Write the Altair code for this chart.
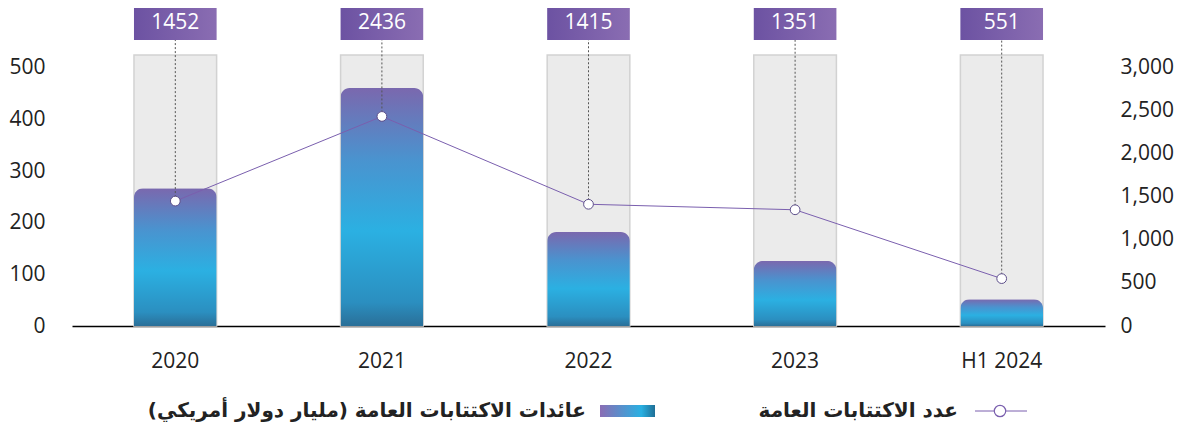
import altair as alt
import pandas as pd

years = ["2020", "2021", "2022", "2023", "H1 2024"]
proceeds = [267, 461, 182, 126, 52]
counts = [1452, 2436, 1415, 1351, 551]
left_ticks = [0, 100, 200, 300, 400, 500]
right_ticks = [0, 500, 1000, 1500, 2000, 2500, 3000]
legend_bar = "عائدات الاكتتابات العامة (مليار دولار أمريكي)"
legend_line = "عدد الاكتتابات العامة"

df = pd.DataFrame({"year": years, "proceeds": proceeds, "count": counts,
                   "label": [str(c) for c in counts]})
one = pd.DataFrame({"k": [0]})

W, H = 1033, 271
FONT = "Open Sans"
PURPLE = "#7a5fae"
FS = 21

x = alt.X("year:N", sort=years, title=None,
          scale=alt.Scale(paddingInner=0.6, paddingOuter=0.3),
          axis=alt.Axis(domain=True, domainColor="#000", domainWidth=1.5, ticks=False,
                        labelAngle=0, labelFontSize=FS, labelFont=FONT, labelColor="#222",
                        labelPadding=24, grid=False))

base = alt.Chart(df).encode(x=x)

bg = base.mark_bar(fill="#ebebeb", stroke="#d2d2d2", strokeWidth=1.5).encode(
    y=alt.value(0), y2=alt.value(H))

bar_grad = alt.Gradient(gradient="linear", x1=0, x2=0, y1=0, y2=1, stops=[
    alt.GradientStop(color="#7a68ae", offset=0),
    alt.GradientStop(color="#4a93cf", offset=0.3),
    alt.GradientStop(color="#2bb0e2", offset=0.6),
    alt.GradientStop(color="#2b8fc0", offset=0.9),
    alt.GradientStop(color="#2a6f98", offset=1)])

bars = base.mark_bar(fill=bar_grad, cornerRadiusTopLeft=9, cornerRadiusTopRight=9).encode(
    y=alt.Y("proceeds:Q", title=None,
            scale=alt.Scale(domain=[0, 525], nice=False),
            axis=alt.Axis(orient="left", values=left_ticks, domain=False, ticks=False, grid=False,
                          labelFontSize=FS, labelFont=FONT, labelColor="#222", labelPadding=27)))

left = alt.layer(bg, bars)

rule = base.mark_rule(color="#555", strokeDash=[2, 2], strokeWidth=1).encode(
    y=alt.Y("count:Q", title=None, scale=alt.Scale(domain=[0, 3150], nice=False),
            axis=alt.Axis(orient="right", values=right_ticks, format=",.0f", domain=False,
                          ticks=False, grid=False, labelFontSize=FS, labelFont=FONT,
                          labelColor="#222", labelPadding=15)),
    y2=alt.value(-15))

line = base.mark_line(color=PURPLE, strokeWidth=1).encode(y="count:Q")
pts = base.mark_circle(fill="white", opacity=1, stroke="#5d4f8a", strokeWidth=1, size=95).encode(
    y="count:Q")

right = alt.layer(rule, line, pts)

box_grad = alt.Gradient(gradient="linear", x1=0, x2=1, y1=0, y2=0, stops=[
    alt.GradientStop(color="#6c52a2", offset=0),
    alt.GradientStop(color="#8a6db2", offset=1)])
boxes = base.mark_bar(fill=box_grad).encode(y=alt.value(-50), y2=alt.value(-15))
box_text = base.mark_text(color="white", fontSize=FS, font=FONT, baseline="middle").encode(
    y=alt.value(-32), text="label:N")

lg = alt.Chart(one)
sw_grad = alt.Gradient(gradient="linear", x1=0, x2=1, y1=0, y2=0, stops=[
    alt.GradientStop(color="#8a6db4", offset=0),
    alt.GradientStop(color="#29b0e2", offset=0.75),
    alt.GradientStop(color="#1f6f96", offset=1)])
sw = lg.mark_rect(fill=sw_grad).encode(x=alt.value(528), x2=alt.value(583),
                                        y=alt.value(350), y2=alt.value(362))
t1 = lg.mark_text(align="right", baseline="middle", fontSize=20, fontWeight="bold",
                  font="DejaVu Sans", color="#222").encode(
    x=alt.value(514), y=alt.value(356), text=alt.value(legend_bar))
lline = lg.mark_rule(color=PURPLE, strokeWidth=1).encode(
    x=alt.value(903), x2=alt.value(955), y=alt.value(356))
lpt = lg.mark_circle(fill="white", opacity=1, stroke=PURPLE, strokeWidth=1.2, size=130).encode(
    x=alt.value(928), y=alt.value(356))
t2 = lg.mark_text(align="right", baseline="middle", fontSize=20, fontWeight="bold",
                  font="DejaVu Sans", color="#222").encode(
    x=alt.value(886), y=alt.value(356), text=alt.value(legend_line))

chart = alt.layer(left, right, boxes, box_text, sw, t1, lline, lpt, t2).resolve_scale(
    y="independent").properties(
    width=W, height=H,
    autosize=alt.AutoSizeParams(type="none"),
    padding={"left": 64, "top": 47, "right": 78, "bottom": 96}
).configure_view(stroke=None)

chart.save("out.html", embed_options={"renderer": "svg", "actions": False})
